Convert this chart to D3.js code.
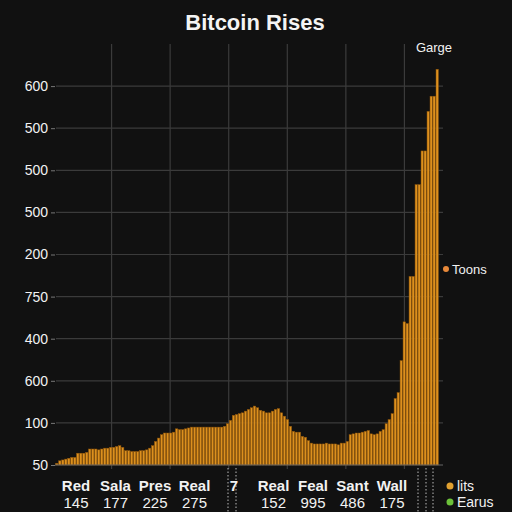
<!doctype html>
<html lang="en">
  <head>
    <meta charset="utf-8">
    <title>Bitcoin Rises</title>
    <script src="https://d3js.org/d3.v7.min.js"></script>
    <style>
      body { margin: 0; background: #111111; }
      svg { display: block; font-family: 'Liberation Sans', Arial, sans-serif; }
    </style>
  </head>
  <body>
    <div id="root"></div>
  </body>
  <script>

    // data:
    const prices = [
      52, 55, 56, 57, 58, 59, 59, 64, 64, 64, 65, 69, 69, 69, 68, 69,
      70, 70, 71, 71, 72, 73, 71, 67, 67, 66, 66, 66, 67, 67, 68, 70,
      73, 78, 82, 86, 88, 88, 88, 89, 93, 92, 92, 93, 94, 95, 95, 95,
      95, 95, 95, 95, 95, 95, 95, 95, 96, 99, 103, 109, 110, 111, 112, 114,
      116, 118, 120, 118, 115, 114, 112, 112, 114, 116, 117, 112, 108, 104, 96, 90,
      89, 89, 84, 83, 79, 76, 75, 75, 75, 75, 76, 75, 75, 75, 74, 76,
      76, 78, 86, 87, 88, 88, 89, 90, 91, 87, 86, 87, 90, 92, 99, 104,
      111, 129, 136, 174, 220, 218, 274, 274, 383, 383, 423, 423, 470, 488, 488, 520
    ];
    const yTickValues = [50, 100, 150, 200, 250, 300, 350, 400, 450, 500];
    const yTickLabels = ["50", "100", "600", "400", "750", "200", "500", "500", "500", "600"];
    const xNames = ["Red", "Sala", "Pres", "Real", "7", "Real", "Feal", "Sant", "Wall"];
    const xNumbers = ["145", "177", "225", "275", "", "152", "995", "486", "175"];
    const legendItems = ["lits", "Earus"];
    const legendColors = ["#e0a030", "#6cc23a"];

    // constants:
    const width = 512;
    const height = 512;
    const plotLeft = 55, plotRight = 443, plotTop = 44, plotBottom = 465;
    const barColor = "#dc901e";
    const gridColor = "#3b3b3b";

    const svg = d3.select("#root")
      .append("svg")
      .attr("width", width)
      .attr("height", height);

    svg.append("rect")
      .attr("width", width)
      .attr("height", height)
      .attr("fill", "#111111");

    // scales:
    const y = d3.scaleLinear().domain([50, 550]).range([plotBottom, plotTop]);
    const x = d3.scaleBand()
      .domain(d3.range(prices.length))
      .range([plotLeft, 439])
      .padding(0.2);
    const xGrid = d3.scaleLinear().domain([0, 7]).range([53, 463]);
    const xLabel = d3.scalePoint().domain(d3.range(xNames.length)).range([76, 392]);

    // grid:
    svg.append("g")
      .selectAll("line")
      .data(yTickValues.slice(1))
      .enter()
      .append("line")
      .attr("x1", plotLeft + 1)
      .attr("x2", plotRight)
      .attr("y1", d => y(d))
      .attr("y2", d => y(d))
      .attr("stroke", gridColor)
      .attr("stroke-width", 1.2);

    svg.append("g")
      .selectAll("line")
      .data(d3.range(1, 7))
      .enter()
      .append("line")
      .attr("x1", d => xGrid(d))
      .attr("x2", d => xGrid(d))
      .attr("y1", plotTop)
      .attr("y2", plotBottom + 4)
      .attr("stroke", gridColor)
      .attr("stroke-width", 1.2);

    // y axis labels:
    const yAxis = svg.append("g")
      .attr("transform", `translate(${plotLeft},0)`)
      .call(d3.axisLeft(y)
        .tickValues(yTickValues)
        .tickFormat((d, i) => yTickLabels[i])
        .tickSize(4)
        .tickPadding(3));
    yAxis.select(".domain").remove();
    yAxis.selectAll("line").attr("stroke", "#777");
    yAxis.selectAll("text")
      .attr("fill", "#f2f2f2")
      .attr("font-size", "14px")
      .attr("font-family", "'Liberation Sans', Arial, sans-serif");

    // bars:
    svg.append("g")
      .selectAll("rect")
      .data(prices)
      .enter()
      .append("rect")
      .attr("x", (d, i) => x(i))
      .attr("y", d => y(d))
      .attr("width", x.bandwidth())
      .attr("height", d => plotBottom - y(d))
      .attr("fill", barColor)
      .attr("stroke", "#8a520a")
      .attr("stroke-width", 0.5);

    // x axis line:
    svg.append("line")
      .attr("x1", plotLeft)
      .attr("x2", plotRight)
      .attr("y1", plotBottom)
      .attr("y2", plotBottom)
      .attr("stroke", "#666");

    // dashed markers:
    const dashes = [228, 236, 418, 426, 433];
    svg.append("g")
      .selectAll("line")
      .data(dashes)
      .enter()
      .append("line")
      .attr("x1", d => d)
      .attr("x2", d => d)
      .attr("y1", plotBottom + 3)
      .attr("y2", height)
      .attr("stroke", "#bbbbbb")
      .attr("stroke-width", 1)
      .attr("stroke-dasharray", "1.5,2");

    // x labels:
    svg.append("g")
      .selectAll("text")
      .data(xNames)
      .enter()
      .append("text")
      .text(d => d)
      .attr("x", (d, i) => xLabel(i))
      .attr("y", 491)
      .attr("text-anchor", "middle")
      .attr("font-size", "15px")
      .attr("font-weight", "bold")
      .attr("fill", "#f2f2f2");

    svg.append("g")
      .selectAll("text")
      .data(xNumbers)
      .enter()
      .append("text")
      .text(d => d)
      .attr("x", (d, i) => xLabel(i))
      .attr("y", 508)
      .attr("text-anchor", "middle")
      .attr("font-size", "15px")
      .attr("fill", "#f2f2f2");

    // title:
    svg.append("text")
      .text("Bitcoin Rises")
      .attr("x", 255)
      .attr("y", 30)
      .attr("text-anchor", "middle")
      .attr("font-size", "22px")
      .attr("font-weight", "bold")
      .attr("fill", "#f4f4f4");

    // annotations:
    svg.append("text")
      .text("Garge")
      .attr("x", 434)
      .attr("y", 52)
      .attr("text-anchor", "middle")
      .attr("font-size", "13px")
      .attr("fill", "#f2f2f2");

    svg.append("circle")
      .attr("cx", 446)
      .attr("cy", 269)
      .attr("r", 3)
      .attr("fill", "#e8893a");
    svg.append("text")
      .text("Toons")
      .attr("x", 452)
      .attr("y", 274)
      .attr("font-size", "13px")
      .attr("fill", "#f2f2f2");

    // legend:
    const legend = svg.append("g");
    legend.selectAll("circle")
      .data(legendItems)
      .enter()
      .append("circle")
      .attr("cx", 450)
      .attr("cy", (d, i) => 486 + i * 16)
      .attr("r", 3.5)
      .attr("fill", (d, i) => legendColors[i]);
    legend.selectAll("text")
      .data(legendItems)
      .enter()
      .append("text")
      .text(d => d)
      .attr("x", 457)
      .attr("y", (d, i) => 491 + i * 16)
      .attr("font-size", "14px")
      .attr("fill", "#f2f2f2");

  </script>
</html>
